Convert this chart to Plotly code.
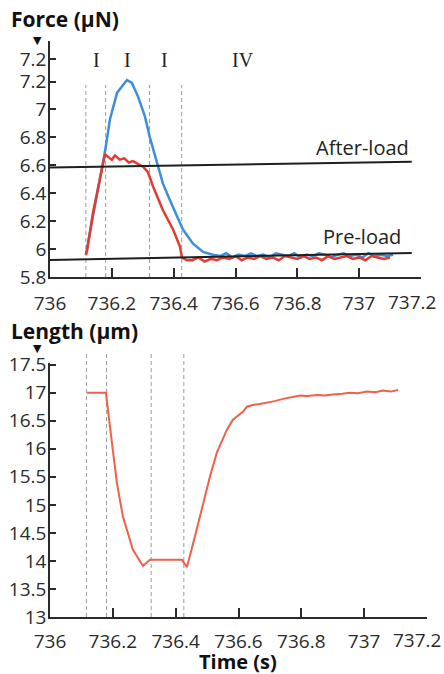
import plotly.graph_objects as go

# ---------------- data ----------------
force_blue_t = [736.116, 736.14, 736.16, 736.178, 736.194, 736.217, 736.249, 736.265, 736.285,
                736.307, 736.323, 736.346, 736.365, 736.388, 736.411, 736.43, 736.462, 736.495,
                736.527, 736.55, 736.57, 736.59, 736.61, 736.63, 736.65, 736.67, 736.69, 736.71,
                736.73, 736.75, 736.77, 736.79, 736.81, 736.83, 736.85, 736.87, 736.89, 736.91,
                736.93, 736.95, 736.97, 736.99, 737.01, 737.03, 737.05, 737.07, 737.09, 737.11]
force_blue = [5.96, 6.25, 6.5, 6.70, 6.93, 7.12, 7.21, 7.19, 7.09,
              6.95, 6.80, 6.62, 6.47, 6.35, 6.23, 6.14, 6.04, 5.98,
              5.96, 5.95, 5.97, 5.94, 5.96, 5.95, 5.97, 5.95, 5.96, 5.94,
              5.97, 5.96, 5.95, 5.97, 5.94, 5.96, 5.95, 5.97, 5.96, 5.94,
              5.96, 5.97, 5.95, 5.96, 5.94, 5.97, 5.95, 5.96, 5.95, 5.96]

force_red_t = [736.116, 736.12, 736.139, 736.162, 736.178, 736.188, 736.2, 736.21, 736.226,
               736.24, 736.255, 736.268, 736.285, 736.301, 736.317, 736.333, 736.365, 736.398,
               736.42, 736.427, 736.443, 736.46, 736.48, 736.50, 736.52, 736.54, 736.56, 736.58,
               736.60, 736.62, 736.64, 736.66, 736.68, 736.70, 736.72, 736.74, 736.76, 736.78,
               736.80, 736.82, 736.84, 736.86, 736.88, 736.90, 736.92, 736.94, 736.96, 736.98,
               737.00, 737.02, 737.04, 737.06, 737.08, 737.10]
force_red = [5.96, 5.99, 6.26, 6.5, 6.68, 6.66, 6.64, 6.67, 6.64,
             6.65, 6.62, 6.63, 6.61, 6.59, 6.55, 6.45, 6.28, 6.14,
             6.02, 5.94, 5.92, 5.92, 5.94, 5.91, 5.93, 5.92, 5.94, 5.93,
             5.95, 5.92, 5.94, 5.93, 5.95, 5.93, 5.94, 5.92, 5.95, 5.94,
             5.93, 5.95, 5.93, 5.94, 5.92, 5.95, 5.93, 5.94, 5.95, 5.93,
             5.94, 5.92, 5.95, 5.94, 5.93, 5.94]

afterload_t = [736.0, 737.17]
afterload = [6.585, 6.625]
preload_t = [736.0, 737.17]
preload = [5.922, 5.972]

length_t = [736.118, 736.178, 736.197, 736.213, 736.232, 736.264, 736.296, 736.318, 736.42,
            736.436, 736.461, 736.487, 736.509, 736.531, 736.563, 736.582, 736.6, 736.614,
            736.627, 736.645, 736.668, 736.69, 736.715, 736.742, 736.77, 736.796, 736.82,
            736.85, 736.875, 736.9, 736.93, 736.955, 736.98, 737.009, 737.035, 737.06,
            737.085, 737.108]
length_um = [17.0, 17.0, 16.11, 15.39, 14.79, 14.20, 13.91, 14.02, 14.02,
             13.89, 14.43, 15.04, 15.5, 15.93, 16.34, 16.52, 16.6, 16.66,
             16.75, 16.78, 16.8, 16.82, 16.85, 16.89, 16.92, 16.95, 16.94,
             16.96, 16.95, 16.97, 16.98, 17.0, 16.99, 17.02, 17.01, 17.04,
             17.02, 17.05]

phase_t = [736.116, 736.18, 736.322, 736.426]
phase_labels = ["I", "I", "I", "IV"]
phase_label_t = [736.149, 736.252, 736.369, 736.624]

force_ticks = [5.8, 6.0, 6.2, 6.4, 6.6, 6.8, 7.0, 7.2, 7.36]
force_ticktext = ["5.8", "6", "6.2", "6.4", "6.6", "6.8", "7", "7.2", "7.2"]

time_ticks = [736.0, 736.2, 736.4, 736.6, 736.8, 737.0, 737.2]
time_ticktext = ["736", "736.2", "736.4", "736.6", "736.8", "737", ""]
time_last_label = "737.2"

# ---------------- figure ----------------
W, H = 444, 674
def px(x):
    return x / W
def py(y):
    return 1 - y / H

AX = "#2b2b2b"
BLUE = "#3d8fd9"
RED = "#e23b31"
ORANGE = "#f0604a"
TICKFONT = dict(family="Open Sans", size=19, color="#2b2b2b")

fig = go.Figure()
fig.add_trace(go.Scatter(x=force_blue_t, y=force_blue, mode="lines",
                         line=dict(color=BLUE, width=2.5), xaxis="x", yaxis="y"))
fig.add_trace(go.Scatter(x=force_red_t, y=force_red, mode="lines",
                         line=dict(color=RED, width=2.5), xaxis="x", yaxis="y"))
fig.add_trace(go.Scatter(x=afterload_t, y=afterload, mode="lines",
                         line=dict(color="#1e1e1e", width=2), xaxis="x", yaxis="y"))
fig.add_trace(go.Scatter(x=preload_t, y=preload, mode="lines",
                         line=dict(color="#1e1e1e", width=2), xaxis="x", yaxis="y"))
fig.add_trace(go.Scatter(x=length_t, y=length_um, mode="lines",
                         line=dict(color=ORANGE, width=2), xaxis="x2", yaxis="y2"))

axis_common = dict(showline=True, linecolor=AX, linewidth=1.5, ticks="inside",
                   tickcolor=AX, tickwidth=1.5, showgrid=False, zeroline=False,
                   tickfont=TICKFONT, fixedrange=True, automargin=False)

fig.update_layout(
    template="none",
    width=W, height=H, margin=dict(l=0, r=0, t=0, b=0, pad=0), autosize=False,
    paper_bgcolor="white", plot_bgcolor="white", showlegend=False,
    xaxis=dict(domain=[px(50), px(421)], range=[736, 737.2], tickvals=time_ticks,
               ticktext=time_ticktext, ticklen=9, anchor="y", ticklabelstandoff=8, **axis_common),
    yaxis=dict(domain=[py(277), py(41)], range=[5.8, 7.49], tickvals=force_ticks,
               ticktext=force_ticktext, ticklen=6, anchor="x", ticklabelstandoff=-2, **axis_common),
    xaxis2=dict(domain=[px(50), px(427)], range=[736, 737.2], tickvals=time_ticks,
                ticktext=time_ticktext, ticklen=9, anchor="y2", ticklabelstandoff=6, **axis_common),
    yaxis2=dict(domain=[py(617), py(363)], range=[13, 17.53], dtick=0.5, tick0=13,
                ticklen=6, anchor="x2", ticklabelstandoff=-2, **axis_common),
)

shapes = []
for t in phase_t:
    shapes.append(dict(type="line", xref="x", yref="paper", x0=t, x1=t,
                       y0=py(277), y1=py(85), line=dict(color="#9a9a9a", width=1, dash="4px,3px"),
                       layer="below"))
    shapes.append(dict(type="line", xref="x2", yref="paper", x0=t, x1=t,
                       y0=py(617), y1=py(351), line=dict(color="#9a9a9a", width=1, dash="4px,3px"),
                       layer="below"))
fig.update_layout(shapes=shapes)

def txt(text, x, y, size, family="Open Sans", color="#222", xanchor="center", **kw):
    return dict(text=text, x=x, y=y, showarrow=False, xanchor=xanchor, yanchor="middle",
                font=dict(family=family, size=size, color=color), **kw)

ann = []
for lab, t in zip(phase_labels, phase_label_t):
    ann.append(txt(lab, t, py(60), 20, family="Liberation Serif", xref="x", yref="paper"))
ann.append(txt("After-load", 737.01, 6.725, 20, xref="x", yref="y"))
ann.append(txt("Pre-load", 737.01, 6.09, 20, xref="x", yref="y"))
# last tick label, kept inside the page as in the reference
ann.append(txt(time_last_label, px(438), py(302), 19, color="#2b2b2b", xanchor="right",
               xref="paper", yref="paper"))
ann.append(txt(time_last_label, px(443), py(640), 19, color="#2b2b2b", xanchor="right",
               xref="paper", yref="paper"))
ann.append(txt("<b>Force (µN)</b>", px(9), py(19), 21, color="#111", xanchor="left",
               xref="paper", yref="paper"))
ann.append(txt("▼", px(37), py(40), 11, family="DejaVu Sans", color="#111",
               xref="paper", yref="paper"))
ann.append(txt("<b>Length (µm)</b>", px(9), py(331), 21, color="#111", xanchor="left",
               xref="paper", yref="paper"))
ann.append(txt("▼", px(37), py(349), 11, family="DejaVu Sans", color="#111",
               xref="paper", yref="paper"))
ann.append(txt("<b>Time (s)</b>", px(238), py(661), 20, color="#111",
               xref="paper", yref="paper"))
fig.update_layout(annotations=ann)

fig.write_html("out.html", config={"displayModeBar": False},
               post_script="document.body.style.margin='0';document.body.style.overflow='hidden';")
